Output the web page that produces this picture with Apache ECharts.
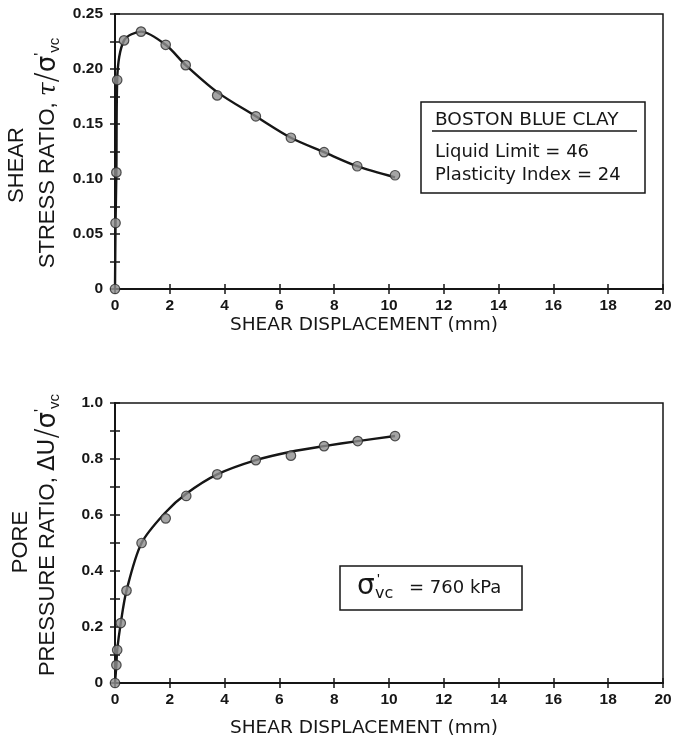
<!DOCTYPE html>
<html>
<head>
<meta charset="utf-8">
<script src="https://cdn.jsdelivr.net/npm/echarts@6/dist/echarts.min.js"></script>
<style>
  html, body { margin: 0; padding: 0; background: #fff; }
  #chart { width: 677px; height: 743px; }
</style>
</head>
<body>
<div id="chart"></div>
<script>
// ---- Data ----
// Top panel: shear stress ratio vs shear displacement (mm)
const topPointsX = [0, 0.02, 0.05, 0.08, 0.33, 0.95, 1.85, 2.58, 3.73, 5.14, 6.42, 7.63, 8.84, 10.22];
const topPointsY = [0, 0.060, 0.106, 0.190, 0.226, 0.234, 0.222, 0.2035, 0.176, 0.157, 0.1375, 0.1244, 0.1116, 0.1034];
const topCurveX  = [0, 0.02, 0.05, 0.08, 0.33, 0.95, 1.85, 2.58, 3.73, 5.14, 6.42, 7.63, 8.84, 10.22];
const topCurveY  = [0, 0.060, 0.106, 0.190, 0.226, 0.234, 0.222, 0.2035, 0.179, 0.157, 0.1375, 0.1244, 0.1116, 0.1015];
// Bottom panel: pore pressure ratio vs shear displacement (mm)
const botPointsX = [0, 0.05, 0.08, 0.21, 0.42, 0.97, 1.85, 2.6, 3.73, 5.14, 6.42, 7.63, 8.86, 10.22];
const botPointsY = [0, 0.064, 0.118, 0.214, 0.33, 0.50, 0.588, 0.668, 0.745, 0.796, 0.812, 0.846, 0.864, 0.882];
const botCurveX  = [0, 0.05, 0.08, 0.21, 0.42, 0.97, 1.85, 2.6, 3.73, 5.14, 6.42, 7.63, 8.86, 10.22];
const botCurveY  = [0, 0.064, 0.118, 0.214, 0.33, 0.50, 0.61, 0.676, 0.745, 0.796, 0.826, 0.846, 0.864, 0.882];
// Axis ticks
const xTicks = { min: 0, max: 20, interval: 2 };
const topYTicks = { min: 0, max: 0.25, interval: 0.025, labelEvery: 0.05 };
const botYTicks = { min: 0, max: 1.0, interval: 0.1, labelEvery: 0.2 };
// Texts
const xAxisTitle = 'SHEAR DISPLACEMENT (mm)';
const boxTitle = 'BOSTON BLUE CLAY';
const boxLine1 = 'Liquid Limit = 46';
const boxLine2 = 'Plasticity Index = 24';

const zip = (xs, ys) => xs.map((x, i) => [x, ys[i]]);

const INK = '#161616';
const tickLabel = { fontFamily: 'Liberation Sans', fontWeight: 'bold', fontSize: 15.5, color: INK };

function bottomX(gi) {
  return {
    gridIndex: gi, type: 'value', min: xTicks.min, max: xTicks.max, interval: xTicks.interval,
    position: 'bottom',
    axisLine: { show: true, lineStyle: { color: INK, width: 2 } },
    axisTick: { show: true, inside: true, length: 5, lineStyle: { color: INK, width: 1.5 } },
    axisLabel: Object.assign({ margin: 9 }, tickLabel),
    splitLine: { show: false }
  };
}
function topX(gi) {
  return {
    gridIndex: gi, type: 'value', min: xTicks.min, max: xTicks.max, interval: xTicks.interval,
    position: 'top',
    axisLine: { show: true, lineStyle: { color: INK, width: 1.5 } },
    axisTick: { show: true, inside: true, length: 5, lineStyle: { color: INK, width: 1.5 } },
    axisLabel: { show: false }, splitLine: { show: false }
  };
}
function leftY(gi, t, digits) {
  return {
    gridIndex: gi, type: 'value', min: t.min, max: t.max, interval: t.interval, position: 'left',
    axisLine: { show: true, lineStyle: { color: INK, width: 2 } },
    axisTick: { show: true, inside: true, length: 5, lineStyle: { color: INK, width: 1.5 } },
    axisLabel: Object.assign({
      margin: 12,
      formatter: function (v) {
        const k = Math.round(v / t.interval);
        const step = Math.round(t.labelEvery / t.interval);
        if (k % step !== 0) return '';
        return k === 0 ? '0' : v.toFixed(digits);
      }
    }, tickLabel),
    splitLine: { show: false }
  };
}
function rightY(gi, t) {
  return {
    gridIndex: gi, type: 'value', min: t.min, max: t.max, interval: t.interval, position: 'right',
    axisLine: { show: true, lineStyle: { color: INK, width: 1.5 } },
    axisTick: { show: true, inside: true, length: 5, lineStyle: { color: INK, width: 1.5 } },
    axisLabel: { show: false }, splitLine: { show: false }
  };
}

const markerStyle = { color: '#8e8e8e', borderColor: '#2a2a2a', borderWidth: 1.2 };

function curve(xi, yi, data) {
  return {
    type: 'line', xAxisIndex: xi, yAxisIndex: yi, data: data,
    smooth: 0.3, showSymbol: false, symbol: 'none',
    lineStyle: { color: INK, width: 2.4 }, z: 2, silent: true
  };
}
function points(xi, yi, data) {
  return {
    type: 'scatter', xAxisIndex: xi, yAxisIndex: yi, data: data,
    symbol: 'circle', symbolSize: 9.5, itemStyle: markerStyle, z: 3, silent: true
  };
}

const nameFont = 'Liberation Sans';
const richRot = {
  a: { fontFamily: nameFont, fontSize: 22, color: INK, lineHeight: 28 },
  t: { fontFamily: 'DejaVu Serif', fontStyle: 'italic', fontSize: 25, color: INK, lineHeight: 28 },
  s: { fontFamily: 'DejaVu Sans', fontSize: 30, fontWeight: 'lighter', color: INK, lineHeight: 28 },
  g: { fontFamily: 'DejaVu Sans', fontSize: 26, color: INK, lineHeight: 28 },
  d: { fontFamily: 'DejaVu Sans', fontSize: 23, color: INK, lineHeight: 28 },
  p: { fontFamily: nameFont, fontSize: 16, color: INK, lineHeight: 14, verticalAlign: 'top' },
  v: { fontFamily: nameFont, fontSize: 15, color: INK, lineHeight: 14, verticalAlign: 'bottom' }
};

function rotText(cx, cy, text, rich) {
  return {
    type: 'text', x: cx, y: cy, rotation: Math.PI / 2, silent: true,
    style: {
      text: text, rich: rich,
      fontFamily: nameFont, fontSize: 22, fill: INK,
      align: 'center', verticalAlign: 'middle',
      textAlign: 'center', textVerticalAlign: 'middle'
    }
  };
}
function hText(x, y, text, size, family, align) {
  return {
    type: 'text', x: x, y: y, silent: true,
    style: {
      text: text, fontFamily: family || 'DejaVu Sans', fontSize: size, fill: INK,
      align: align || 'left', verticalAlign: 'middle',
      textAlign: align || 'left', textVerticalAlign: 'middle'
    }
  };
}

const option = {
  animation: false,
  backgroundColor: '#ffffff',
  grid: [
    { left: 115, top: 14, width: 548, height: 275, show: true, borderColor: INK, borderWidth: 1.5, backgroundColor: 'transparent' },
    { left: 115, top: 403, width: 548, height: 280, show: true, borderColor: INK, borderWidth: 1.5, backgroundColor: 'transparent' }
  ],
  xAxis: [bottomX(0), topX(0), bottomX(1), topX(1)],
  yAxis: [leftY(0, topYTicks, 2), rightY(0, topYTicks), leftY(1, botYTicks, 1), rightY(1, botYTicks)],
  series: [
    curve(0, 0, zip(topCurveX, topCurveY)),
    points(0, 0, zip(topPointsX, topPointsY)),
    curve(2, 2, zip(botCurveX, botCurveY)),
    points(2, 2, zip(botPointsX, botPointsY))
  ],
  graphic: [
    // y-axis titles
    rotText(17, 165, 'SHEAR', richRot),
    rotText(48, 153, '{a|STRESS RATIO, }{t|τ}{s|/}{g|σ}{p|\'}{v|vc}', richRot),
    rotText(21, 542, 'PORE', richRot),
    rotText(48, 535, '{a|PRESSURE RATIO, }{d|ΔU}{s|/}{g|σ}{p|\'}{v|vc}', richRot),
    // x-axis titles
    hText(364, 325, xAxisTitle, 18.5, 'DejaVu Sans', 'center'),
    hText(364, 728, xAxisTitle, 18.5, 'DejaVu Sans', 'center'),
    // top info box
    { type: 'rect', shape: { x: 421, y: 102, width: 224, height: 91 }, style: { fill: '#fff', stroke: INK, lineWidth: 1.5 }, silent: true, z: 10 },
    Object.assign(hText(435, 120, boxTitle, 18.5), { z: 11 }),
    { type: 'line', shape: { x1: 432, y1: 131, x2: 637, y2: 131 }, style: { stroke: INK, lineWidth: 1.5 }, silent: true, z: 11 },
    Object.assign(hText(435, 152, boxLine1, 18), { z: 11 }),
    Object.assign(hText(435, 175, boxLine2, 18), { z: 11 }),
    // bottom info box
    { type: 'rect', shape: { x: 340, y: 566, width: 182, height: 44 }, style: { fill: '#fff', stroke: INK, lineWidth: 1.5 }, silent: true, z: 10 },
    Object.assign(hText(357, 587, 'σ', 28), { z: 11 }),
    Object.assign(hText(377, 580, '\'', 15, 'Liberation Sans'), { z: 11 }),
    Object.assign(hText(375, 594, 'vc', 16, 'DejaVu Sans'), { z: 11 }),
    Object.assign(hText(409, 588, '= 760 kPa', 18), { z: 11 })
  ]
};

const chart = echarts.init(document.getElementById('chart'), null, { renderer: 'canvas' });
chart.setOption(option);
</script>
</body>
</html>
